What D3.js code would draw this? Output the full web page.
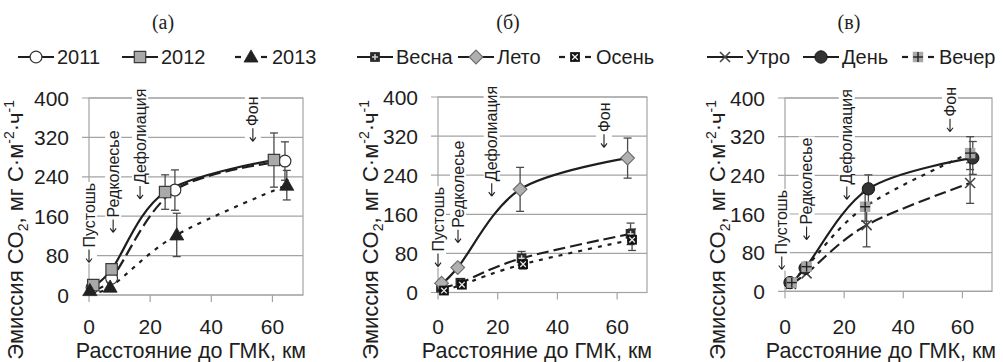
<!DOCTYPE html>
<html>
<head>
<meta charset="utf-8">
<script src="https://cdn.jsdelivr.net/npm/d3@7"></script>
<style>
  body { margin: 0; background: #fff; }
  svg { display: block; }
</style>
</head>
<body>
<svg id="chart" width="1003" height="362"></svg>
<script>
// ---- Data: CO2 emission (mg C·m-2·h-1) vs distance to the smelter (km) ----

// Panel (а): by year
const distA2011 = [1.0, 7.4, 28.1, 64.1];
const co2A2011  = [15, 34, 213, 272];
const errA2011  = [0, 0, 41, 39];
const distA2012 = [1.4, 7.4, 24.9, 60.5];
const co2A2012  = [20, 52, 209, 274];
const errA2012  = [0, 0, 35, 55];
const distA2013 = [0.3, 6.9, 28.7, 64.7];
const co2A2013  = [9, 16, 122, 223];
const errA2013  = [0, 0, 44, 30];

// Panel (б): by season
const distSpring = [1.0, 7.5, 28.0, 64.5];
const co2Spring  = [10, 20, 70, 120];
const errSpring  = [0, 0, 14, 22];
const distSummer = [1.2, 6.6, 27.5, 63.5];
const co2Summer  = [19, 51, 211, 275];
const errSummer  = [0, 0, 45, 41];
const distAutumn = [2.0, 8.0, 28.5, 65.0];
const co2Autumn  = [4, 16, 58, 108];
const errAutumn  = [0, 0, 10, 22];

// Panel (в): by time of day
const distMorning = [2.0, 7.3, 27.6, 62.6];
const co2Morning  = [15, 37, 137, 224];
const errMorning  = [0, 0, 45, 42];
const distDay     = [1.7, 6.8, 28.2, 63.5];
const co2Day      = [18, 48, 212, 276];
const errDay      = [0, 0, 29, 34];
const distEvening = [2.3, 7.3, 27.1, 62.6];
const co2Evening  = [18, 51, 175, 286];
const errEvening  = [0, 0, 30, 34];

// Axes, titles and zone labels
const yTicks = [0, 80, 160, 240, 320, 400];
const xTicks = [0, 20, 40, 60];
const panelTitles = ["(а)", "(б)", "(в)"];
const zoneLabels = ["Пустошь", "Редколесье", "Дефолиация", "Фон"];
const xTitle = "Расстояние до ГМК, км";

// ---- Layout ----
const FONT = "'Liberation Sans', Arial, sans-serif";
const SERIF = "'Liberation Serif', 'Times New Roman', serif";
const GRID = "#a3a3a3";
const INK = "#1e1e1e";

const DASH_LONG = "12,5";
const DASH_DOT = "4,6";

const panels = [
  {
    title: panelTitles[0], titleX: 163,
    left: 89, right: 303, top: 98, bottom: 295,
    yTitleX: 23, xTitleX: 191,
    zones: [[0, 64], [7.9, 125], [16.7, 193], [53.6, 310]],
    series: [
      { name: "2011", x: distA2011, y: co2A2011, err: errA2011, marker: "circleOpen", dash: DASH_LONG, legendX: 18 },
      { name: "2012", x: distA2012, y: co2A2012, err: errA2012, marker: "squareGray", dash: null, legendX: 122 },
      { name: "2013", x: distA2013, y: co2A2013, err: errA2013, marker: "triangle", dash: DASH_DOT, legendX: 233 }
    ]
  },
  {
    title: panelTitles[1], titleX: 508,
    left: 438, right: 647, top: 97, bottom: 292.5,
    yTitleX: 378, xTitleX: 537,
    zones: [[0, 51], [6.7, 100], [18, 195], [55.6, 295]],
    series: [
      { name: "Весна", x: distSpring, y: co2Spring, err: errSpring, marker: "squarePlus", dash: DASH_LONG, legendX: 357 },
      { name: "Лето", x: distSummer, y: co2Summer, err: errSummer, marker: "diamond", dash: null, legendX: 458 },
      { name: "Осень", x: distAutumn, y: co2Autumn, err: errAutumn, marker: "squareX", dash: DASH_DOT, legendX: 557 }
    ]
  },
  {
    title: panelTitles[2], titleX: 849,
    left: 785, right: 992, top: 98, bottom: 291.3,
    yTitleX: 725, xTitleX: 881,
    zones: [[-1.1, 43], [7.3, 105], [20.9, 188], [55.8, 328]],
    series: [
      { name: "Утро", x: distMorning, y: co2Morning, err: errMorning, marker: "cross", dash: DASH_LONG, legendX: 707 },
      { name: "День", x: distDay, y: co2Day, err: errDay, marker: "circleFilled", dash: null, legendX: 803 },
      { name: "Вечер", x: distEvening, y: co2Evening, err: errEvening, marker: "squarePlusGray", dash: DASH_DOT, legendX: 900 }
    ]
  }
];

const svg = d3.select("#chart");
svg.append("rect").attr("width", 1003).attr("height", 362).attr("fill", "#fff");

// Plus / times strokes inside square markers
function innerCross(m, half, color, width, diagonal) {
  const segs = diagonal
    ? [[-half, -half, half, half], [-half, half, half, -half]]
    : [[-half, 0, half, 0], [0, -half, 0, half]];
  segs.forEach(s => m.append("line")
    .attr("x1", s[0]).attr("y1", s[1]).attr("x2", s[2]).attr("y2", s[3])
    .attr("stroke", color).attr("stroke-width", width));
}

// Marker glyphs built from d3 symbols
function drawMarker(g, type, cx, cy) {
  const m = g.append("g").attr("transform", `translate(${cx},${cy})`);
  const sym = (t, size) => d3.symbol().type(t).size(size)();
  switch (type) {
    case "circleOpen":
      m.append("path").attr("d", sym(d3.symbolCircle, 110))
        .attr("fill", "#fff").attr("stroke", "#333").attr("stroke-width", 1.2);
      break;
    case "squareGray":
      m.append("path").attr("d", sym(d3.symbolSquare, 130))
        .attr("fill", "#a9a9a9").attr("stroke", "#3a3a3a").attr("stroke-width", 1.2);
      break;
    case "triangle":
      m.append("path").attr("d", sym(d3.symbolTriangle, 85))
        .attr("transform", "translate(0,1)")
        .attr("fill", "#222").attr("stroke", "#222").attr("stroke-width", 0.8);
      break;
    case "squarePlus":
      m.append("path").attr("d", sym(d3.symbolSquare, 95)).attr("fill", "#2a2a2a");
      innerCross(m, 3, "#d8d8d8", 1.4, false);
      break;
    case "squareX":
      m.append("path").attr("d", sym(d3.symbolSquare, 95)).attr("fill", "#111");
      innerCross(m, 2.8, "#eee", 1.3, true);
      break;
    case "diamond":
      m.append("path").attr("d", sym(d3.symbolDiamond2, 120))
        .attr("fill", "#b0b0b0").attr("stroke", "#6a6a6a").attr("stroke-width", 1.1);
      break;
    case "cross":
      innerCross(m, 5, "#444", 1.6, true);
      break;
    case "circleFilled":
      m.append("path").attr("d", sym(d3.symbolCircle, 120))
        .attr("fill", "#333").attr("stroke", "#111").attr("stroke-width", 1);
      break;
    case "squarePlusGray":
      m.append("path").attr("d", sym(d3.symbolSquare, 110)).attr("fill", "#a8a8a8");
      innerCross(m, 5, "#222", 1.4, false);
      break;
  }
}

panels.forEach(p => {
  const x = d3.scaleLinear().domain([0, 70]).range([p.left, p.right]);
  const y = d3.scaleLinear().domain([0, 400]).range([p.bottom, p.top]);
  const g = svg.append("g");

  // Panel title
  g.append("text").attr("x", p.titleX).attr("y", 29)
    .attr("text-anchor", "middle").attr("font-family", SERIF).attr("font-size", 20)
    .attr("fill", INK).text(p.title);

  // Legend row
  p.series.forEach(s => {
    const lx0 = s.legendX, lx1 = s.legendX + 36, ly = 57;
    const lg = g.append("g");
    if (s.dash === DASH_DOT) {
      lg.append("line").attr("x1", lx0 + 2).attr("x2", lx0 + 8).attr("y1", ly).attr("y2", ly)
        .attr("stroke", INK).attr("stroke-width", 2.2);
      lg.append("line").attr("x1", lx1 - 8).attr("x2", lx1 - 2).attr("y1", ly).attr("y2", ly)
        .attr("stroke", INK).attr("stroke-width", 2.2);
    } else {
      lg.append("line").attr("x1", lx0).attr("x2", lx1).attr("y1", ly).attr("y2", ly)
        .attr("stroke", INK).attr("stroke-width", 2.2);
    }
    drawMarker(lg, s.marker, (lx0 + lx1) / 2, ly);
    lg.append("text").attr("x", lx1 + 3).attr("y", ly + 7)
      .attr("font-family", FONT).attr("font-size", 20).attr("fill", INK).text(s.name);
  });

  // Horizontal gridlines and left ticks
  g.append("g").selectAll("line").data(yTicks).join("line")
    .attr("x1", p.left - 7).attr("x2", p.right)
    .attr("y1", d => y(d)).attr("y2", d => y(d))
    .attr("stroke", GRID).attr("stroke-width", 1.2);
  // Plot frame
  g.append("rect").attr("x", p.left).attr("y", p.top)
    .attr("width", p.right - p.left).attr("height", p.bottom - p.top)
    .attr("fill", "none").attr("stroke", GRID).attr("stroke-width", 1.2);
  // Bottom ticks
  g.append("g").selectAll("line").data(xTicks).join("line")
    .attr("x1", d => x(d)).attr("x2", d => x(d))
    .attr("y1", p.bottom).attr("y2", p.bottom + 7)
    .attr("stroke", GRID).attr("stroke-width", 1.2);

  // Tick labels
  g.append("g").selectAll("text").data(yTicks).join("text")
    .attr("x", p.left - 20).attr("y", d => y(d)).attr("dy", "0.36em")
    .attr("text-anchor", "end").attr("font-family", FONT).attr("font-size", 21)
    .attr("fill", INK).text(d => d);
  g.append("g").selectAll("text").data(xTicks).join("text")
    .attr("x", d => x(d)).attr("y", 334)
    .attr("text-anchor", "middle").attr("font-family", FONT).attr("font-size", 21)
    .attr("fill", INK).text(d => d);

  // Axis titles
  g.append("text").attr("x", p.xTitleX).attr("y", 358)
    .attr("text-anchor", "middle").attr("font-family", FONT).attr("font-size", 21.5)
    .attr("fill", INK).text(xTitle);

  const yt = g.append("text")
    .attr("transform", `translate(${p.yTitleX},100) rotate(-90)`)
    .attr("text-anchor", "end").attr("font-family", FONT).attr("font-size", 22)
    .attr("fill", INK);
  yt.append("tspan").text("Эмиссия CO");
  yt.append("tspan").attr("font-size", 14).attr("dy", 5).text("2");
  yt.append("tspan").attr("dy", -5).text(", мг C·м");
  yt.append("tspan").attr("font-size", 14).attr("dy", -9).text("-2");
  yt.append("tspan").attr("dy", 9).text("·ч");
  yt.append("tspan").attr("font-size", 14).attr("dy", -9).text("-1");

  // Zone labels: vertical text with a downward arrow, on a white box
  p.zones.forEach((z, i) => {
    const zg = g.append("g")
      .attr("transform", `translate(${x(z[0])},${y(z[1])}) rotate(-90)`);
    const bg = zg.append("rect").attr("fill", "#fff");
    const t = zg.append("text").attr("x", 16).attr("y", 0).attr("dy", "0.35em")
      .attr("font-family", FONT).attr("font-size", 16).attr("fill", INK)
      .text(zoneLabels[i]);
    const w = t.node().getComputedTextLength();
    bg.attr("x", 0).attr("y", -8).attr("width", w + 17).attr("height", 16);
    zg.append("path").attr("d", "M1,0H14M1,0L5,-3M1,0L5,3")
      .attr("fill", "none").attr("stroke", INK).attr("stroke-width", 1.1);
  });

  // Series: smoothed lines, error bars, markers
  const line = d3.line().curve(d3.curveCatmullRom.alpha(0));
  p.series.forEach(s => {
    const pts = s.x.map((d, i) => [x(d), y(s.y[i])]);
    g.append("path").attr("d", line(pts))
      .attr("fill", "none").attr("stroke", INK).attr("stroke-width", 2.2)
      .attr("stroke-dasharray", s.dash);
  });
  p.series.forEach(s => {
    s.x.forEach((d, i) => {
      if (!s.err[i]) return;
      const cx = x(d), y0 = y(s.y[i] - s.err[i]), y1 = y(s.y[i] + s.err[i]);
      const eb = g.append("g").attr("stroke", "#4a4a4a").attr("stroke-width", 1.3);
      eb.append("line").attr("x1", cx).attr("x2", cx).attr("y1", y0).attr("y2", y1);
      eb.append("line").attr("x1", cx - 4).attr("x2", cx + 4).attr("y1", y0).attr("y2", y0);
      eb.append("line").attr("x1", cx - 4).attr("x2", cx + 4).attr("y1", y1).attr("y2", y1);
    });
  });
  p.series.forEach(s => {
    s.x.forEach((d, i) => drawMarker(g, s.marker, x(d), y(s.y[i])));
  });
});
</script>
</body>
</html>
